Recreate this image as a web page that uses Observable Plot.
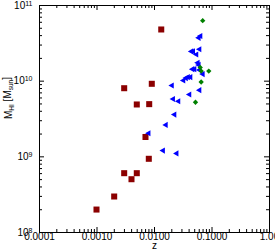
<!DOCTYPE html>
<html><head><meta charset="utf-8">
<script src="https://cdn.jsdelivr.net/npm/d3@7"></script>
<script src="https://cdn.jsdelivr.net/npm/@observablehq/plot@0.6"></script>
<style>body{margin:0;background:#fff} svg{display:block}</style>
</head><body><div id="chart"></div>
<script>
// Red squares
const redZ = [0.00098, 0.00199, 0.00297, 0.00398, 0.00492, 0.00796, 0.00697, 0.00297, 0.00492, 0.00809, 0.00897, 0.0131];
const redM = [2.01e8, 2.99e8, 6.08e8, 5.06e8, 6.08e8, 9.42e8, 1.83e9, 8.07e9, 4.92e9, 4.97e9, 9.23e9, 4.82e10];
// Blue triangles
const blueZ = [0.0589, 0.0631, 0.0607, 0.0439, 0.0471, 0.0537, 0.0566, 0.0589, 0.0458, 0.0497, 0.0607, 0.0423, 0.0383, 0.0353, 0.0319, 0.0692, 0.0201, 0.0607, 0.0406, 0.0211, 0.0261, 0.0223, 0.0158, 0.00792, 0.0141, 0.0243];
const blueM = [3.74e10, 3.95e10, 2.64e10, 2.47e10, 2.47e10, 2.25e10, 1.75e10, 1.64e10, 1.44e10, 1.44e10, 1.41e10, 1.13e10, 1.13e10, 1.10e10, 1.02e10, 1.24e10, 8.77e9, 7.60e9, 6.67e9, 5.81e9, 5.43e9, 3.62e9, 2.64e9, 2.05e9, 1.21e9, 1.11e9];
// Green diamonds
const greenZ = [0.0689, 0.0624, 0.0648, 0.0879, 0.0648, 0.0516];
const greenM = [6.30e10, 1.52e10, 1.36e10, 1.36e10, 9.75e9, 5.27e9];

const xTickValues = [1e-4, 1e-3, 1e-2, 1e-1, 1];
const xTickLabels = ["0.0001", "0.0010", "0.0100", "0.1000", "1.00"];
const yTickValues = [1e8, 1e9, 1e10, 1e11];
const yTickLabels = ["10^8", "10^9", "10^10", "10^11"];
const xTitle = "z";
const yTitle = "M_HI [M_sun]";

const W = 275, H = 252, mL = 39, mR = 6, mT = 5, mB = 20;
const innerW = W - mL - mR, innerH = H - mT - mB;
const xDomain = [1e-4, 1], yDomain = [1e8, 1e11];

const xAll = d3.scaleLog().domain(xDomain).ticks();
const yAll = d3.scaleLog().domain(yDomain).ticks();
const isMajor = v => Math.abs(Math.log10(v) - Math.round(Math.log10(v))) < 1e-9;
const xMinor = xAll.filter(v => !isMajor(v)), xMajor = xAll.filter(isMajor);
const yMinor = yAll.filter(v => !isMajor(v)), yMajor = yAll.filter(isMajor);

const red = redZ.map((z, i) => ({z, m: redM[i]}));
const blue = blueZ.map((z, i) => ({z, m: blueM[i]}));
const green = greenZ.map((z, i) => ({z, m: greenM[i]}));
const xLab = xTickValues.map((v, i) => ({v, t: xTickLabels[i]}));
const yLab = yTickValues.map((v, i) => ({v, t: yTickLabels[i]}));

const majL = 5, minL = 3, ink = "#000";
const chart = Plot.plot({
  width: W, height: H,
  marginLeft: mL, marginRight: mR, marginTop: mT, marginBottom: mB,
  style: {fontFamily: "Liberation Sans, Arial, Helvetica, sans-serif", fontSize: "10px", background: "#fff", color: "#000"},
  x: {type: "log", domain: xDomain, axis: null},
  y: {type: "log", domain: yDomain, axis: null},
  marks: [
    Plot.tickX(xMinor, {x: d => d, insetTop: innerH - minL, stroke: ink}),
    Plot.tickX(xMajor, {x: d => d, insetTop: innerH - majL, stroke: ink}),
    Plot.tickX(xMinor, {x: d => d, insetBottom: innerH - minL, stroke: ink}),
    Plot.tickX(xMajor, {x: d => d, insetBottom: innerH - majL, stroke: ink}),
    Plot.tickY(yMinor, {y: d => d, insetRight: innerW - minL, stroke: ink}),
    Plot.tickY(yMajor, {y: d => d, insetRight: innerW - majL, stroke: ink}),
    Plot.tickY(yMinor, {y: d => d, insetLeft: innerW - minL, stroke: ink}),
    Plot.tickY(yMajor, {y: d => d, insetLeft: innerW - majL, stroke: ink}),
    Plot.frame({stroke: ink}),
    Plot.dot(red, {x: "z", y: "m", symbol: "square", r: 3.4, fill: "#8b0000"}),
    Plot.dot(blue, {x: "z", y: "m", symbol: "triangle", rotate: -90, r: 2.3, fill: "#0000ff"}),
    Plot.dot(green, {x: "z", y: "m", symbol: "diamond2", r: 2.4, fill: "#008000"}),
    Plot.text(xLab, {x: "v", text: "t", frameAnchor: "bottom", dy: 7, fontSize: 10, fill: ink}),
    Plot.text(yLab, {y: "v", text: "t", frameAnchor: "left", dx: -7, textAnchor: "end", fontSize: 10, fill: ink}),
    Plot.text([xTitle], {text: d => d, frameAnchor: "bottom", dy: 16, fontSize: 10, fill: ink}),
    Plot.text([yTitle], {text: d => d, frameAnchor: "left", dx: -31, rotate: -90, fontSize: 10, fill: ink})
  ]
});

d3.select(chart).selectAll("text").each(function() {
  const el = d3.select(this);
  const s = this.textContent;
  let m = s.match(/^10\^(\d+)$/);
  if (m) {
    el.text("10");
    el.append("tspan").attr("dy", "-0.45em").attr("font-size", "7px").text(m[1]);
    return;
  }
  if (s === yTitle) {
    el.text("M");
    el.append("tspan").attr("dy", "0.3em").attr("font-size", "6.5px").text("HI");
    el.append("tspan").attr("dy", "-0.3em").text(" [M");
    el.append("tspan").attr("dy", "0.3em").attr("font-size", "6.5px").text("sun");
    el.append("tspan").attr("dy", "-0.3em").text("]");
  }
});
document.getElementById("chart").appendChild(chart);
</script>
</body></html>
